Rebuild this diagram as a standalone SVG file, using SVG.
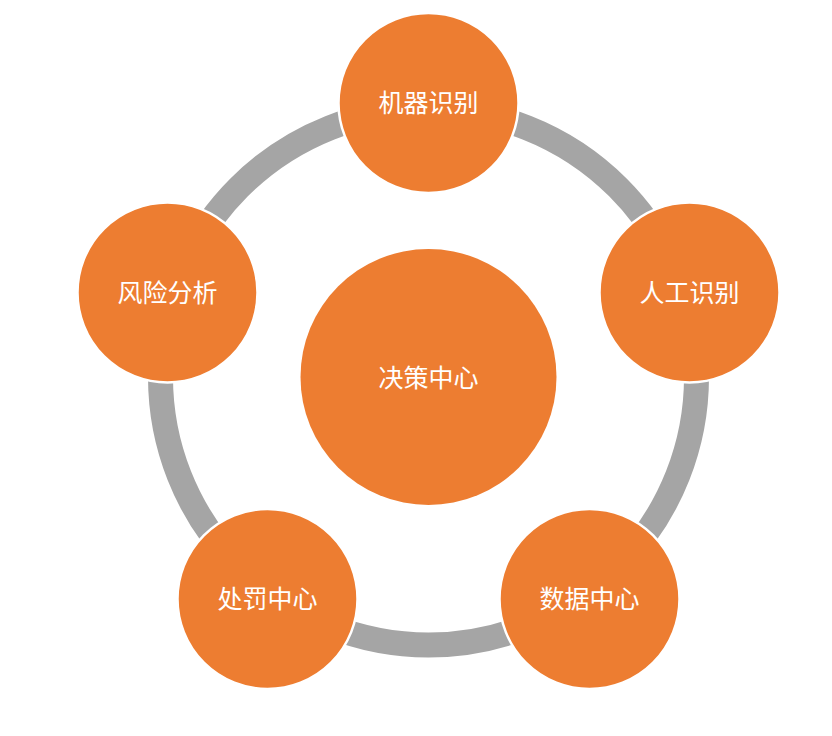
<svg xmlns="http://www.w3.org/2000/svg" width="832" height="736" viewBox="0 0 832 736">
<style>
.node{fill:#ED7D31;stroke:#FFFFFF;stroke-width:2.5}
.hub{fill:#ED7D31}
.lbl{fill:#FFFFFF;font-family:"Microsoft YaHei","Noto Sans CJK SC",sans-serif;font-size:25px;text-anchor:middle}
</style>
<rect width="832" height="736" fill="#FFFFFF"/>
<g id="connectors">
<circle cx="428.5" cy="377" r="268" fill="none" stroke="#A5A5A5" stroke-width="25"/>
</g>
<g id="center">
<circle class="hub" cx="428.5" cy="377" r="128"/>
<text class="lbl" x="428.5" y="386.5">决策中心</text>
</g>
<g id="node-top">
<circle class="node" cx="428.5" cy="103" r="90"/>
<text class="lbl" x="428.5" y="112">机器识别</text>
</g>
<g id="node-right">
<circle class="node" cx="689.5" cy="292.5" r="90"/>
<text class="lbl" x="689.5" y="301.5">人工识别</text>
</g>
<g id="node-bottom-right">
<circle class="node" cx="589.5" cy="599" r="90"/>
<text class="lbl" x="589.5" y="608">数据中心</text>
</g>
<g id="node-bottom-left">
<circle class="node" cx="267.5" cy="599" r="90"/>
<text class="lbl" x="267.5" y="608">处罚中心</text>
</g>
<g id="node-left">
<circle class="node" cx="167.5" cy="292.5" r="90"/>
<text class="lbl" x="167.5" y="301.5">风险分析</text>
</g>
</svg>
